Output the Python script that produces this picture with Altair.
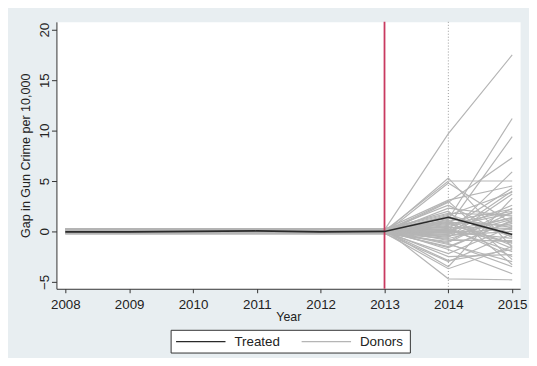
import altair as alt
import pandas as pd

years = [2008, 2009, 2010, 2011, 2012, 2013, 2014, 2015]
pre_years = [2008, 2009, 2010, 2011, 2012, 2013]

# Treated unit gap per year
treated = [-0.05, -0.05, 0.0, 0.05, -0.05, 0.0, 1.4, -0.3]

# Donor (placebo) gaps: flat pre-period level, then 2014 and 2015 values
donor_pre = [0.15, -0.10, 0.05, -0.20, 0.20, 0.00, -0.15, 0.10, 0.25, -0.05,
             0.05, -0.25, 0.15, 0.00, -0.10, 0.20, -0.20, 0.10, -0.05, 0.05,
             0.25, -0.15, 0.00, 0.10, -0.25, 0.15, -0.05, 0.20, -0.10, 0.05,
             0.00, -0.20, 0.10, -0.15, 0.20, 0.05, -0.05, 0.15, -0.10, 0.00,
             0.25, -0.20, 0.10, -0.05, 0.10, -0.10, 0.20, -0.15, 0.05, -0.20,
             0.15, 0.00, -0.05, 0.20, -0.10, 0.10]
donor_2014 = [9.7, 5.3, 5.0, 4.8, 3.1, 3.0, 2.9, 2.0, 1.8, 1.6,
              1.5, 1.2, 1.0, 0.8, 0.6, 0.4, 0.3, 0.2, 0.1, 0.0,
              -0.2, -0.4, -0.6, -0.8, -1.0, -1.2, -1.5, -1.8, -2.2, -2.5,
              -2.9, -3.0, -3.5, -3.7, -4.7, 0.5, -0.3, 1.1, -0.1, 0.7,
              -0.9, 2.3, -1.3, 0.9, 0.2, -0.5, 1.3, -1.1, 0.4, -0.7,
              1.7, -1.6, 0.0, 0.9, -0.3, 2.6]
donor_2015 = [17.5, -1.6, 5.0, 0.8, 4.5, -2.8, 7.3, -3.3, 1.6, 3.9,
              -0.5, 11.2, 2.2, -1.2, 9.4, 0.3, 4.3, -2.0, 1.3, -0.7,
              5.9, 0.0, 3.7, -1.0, 2.3, -3.5, 1.0, -4.2, 0.5, -2.3,
              -1.8, -0.2, 3.3, -1.5, -4.8, 1.8, 4.0, -1.4, 0.2, 2.0,
              -0.9, 1.5, -3.0, 0.6, -1.1, 1.2, 0.4, 1.9, -2.5, 0.8,
              -0.4, 1.1, 2.6, -1.7, 1.4, -0.6]

y_ticks = [-5, 0, 5, 10, 15, 20]

rows = []
for i, (pre, v14, v15) in enumerate(zip(donor_pre, donor_2014, donor_2015)):
    for yr in pre_years:
        rows.append({"unit": f"d{i}", "year": yr, "gap": pre})
    rows.append({"unit": f"d{i}", "year": 2014, "gap": v14})
    rows.append({"unit": f"d{i}", "year": 2015, "gap": v15})
donors_df = pd.DataFrame(rows)
treated_df = pd.DataFrame({"year": years, "gap": treated})

FONT = "Liberation Sans"
TXT = "#222222"

X = alt.X("year:Q",
          scale=alt.Scale(domain=[2007.861, 2015.124], nice=False, zero=False),
          axis=alt.Axis(values=years, format="d", title="Year", grid=False,
                        labelFontSize=13.5, labelFont=FONT, labelColor=TXT,
                        tickSize=4, labelPadding=5, tickColor="#333333",
                        domainColor="#333333", titleFont=FONT, titleFontSize=12.5,
                        titleFontWeight="normal", titleColor=TXT,
                        titleY=28, titleBaseline="middle"))
Y = alt.Y("gap:Q",
          scale=alt.Scale(domain=[-5.69, 20.78], nice=False, zero=False),
          axis=alt.Axis(values=y_ticks, title="Gap in Gun Crime per 10,000", grid=False,
                        labelAngle=270, labelAlign="center", labelBaseline="alphabetic",
                        labelFontSize=13.5, labelFont=FONT, labelColor=TXT,
                        labelPadding=3, tickSize=5, tickColor="#333333",
                        domainColor="#333333", titleFont=FONT, titleFontSize=12.7,
                        titleFontWeight="normal", titleColor=TXT, titleAngle=270,
                        titleX=-24, titleY=135, titleBaseline="bottom",
                        titleAlign="center"))

dotted = alt.Chart(pd.DataFrame({"year": [2014]})).mark_rule(
    color="#9a9a9a", strokeWidth=1, strokeDash=[1, 2]).encode(x=X)

donor_lines = alt.Chart(donors_df).mark_line(
    color="#b5b5b5", strokeWidth=1.2).encode(x=X, y=Y, detail="unit:N")

red = alt.Chart(pd.DataFrame({"year": [2013]})).mark_rule(
    color="#c93a60", strokeWidth=1.8).encode(x=X)

treated_line = alt.Chart(treated_df).mark_line(
    color="#2a2a2a", strokeWidth=1.6).encode(x=X, y=Y)

one = pd.DataFrame({"k": [0]})
leg_box = alt.Chart(one).mark_rect(fill="white", stroke="#333333", strokeWidth=1).encode(
    x=alt.value(116), x2=alt.value(358), y=alt.value(312), y2=alt.value(335))
leg_treated = alt.Chart(one).mark_rule(color="#2a2a2a", strokeWidth=1.4).encode(
    x=alt.value(121), x2=alt.value(171), y=alt.value(323.5))
leg_donors = alt.Chart(one).mark_rule(color="#b5b5b5", strokeWidth=1.4).encode(
    x=alt.value(248), x2=alt.value(298), y=alt.value(323.5))
leg_t_txt = alt.Chart(one).mark_text(text="Treated", align="left", baseline="middle",
                                     font=FONT, fontSize=13.5, color=TXT).encode(
    x=alt.value(180), y=alt.value(324))
leg_d_txt = alt.Chart(one).mark_text(text="Donors", align="left", baseline="middle",
                                     font=FONT, fontSize=13.5, color=TXT).encode(
    x=alt.value(307), y=alt.value(324))

chart = alt.layer(dotted, donor_lines, red, treated_line,
                  leg_box, leg_treated, leg_donors, leg_t_txt, leg_d_txt).properties(
    width=469, height=270,
    autosize=alt.AutoSizeParams(type="none"),
    padding={"left": 49, "top": 12, "right": 9, "bottom": 68},
    background="#e8eef1",
).configure_view(fill="white", stroke="transparent")

chart.save("out.html", embed_options={"renderer": "svg", "actions": False})
